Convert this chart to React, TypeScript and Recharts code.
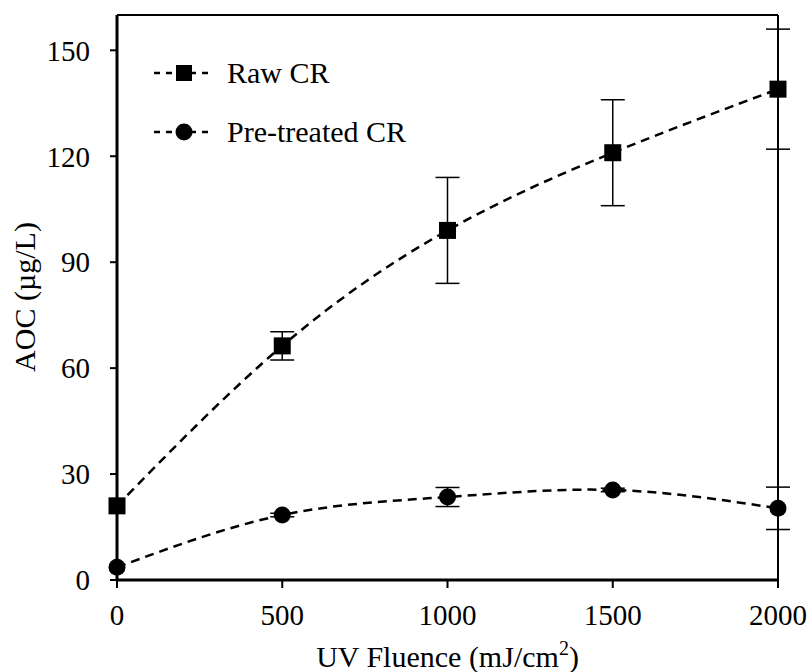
import React from "react";
import {
    ComposedChart,
    Line,
    XAxis,
    YAxis,
    ErrorBar,
    ReferenceLine,
} from "recharts";

const fluence = [0, 500, 1000, 1500, 2000];
const rawCR = [21, 66.3, 99, 121, 139];
const rawErr = [0, 4, 15, 15, 17];
const pretreatedCR = [3.6, 18.4, 23.5, 25.5, 20.3];
const pretreatedErr = [0, 0.5, 2.7, 0.5, 6];
const xTicks = [0, 500, 1000, 1500, 2000];
const yTicks = [0, 30, 60, 90, 120, 150];

const FONT = '"Liberation Serif", "Times New Roman", serif';

const data = fluence.map((x, i) => ({
    x,
    raw: rawCR[i],
    rawErr: rawErr[i],
    pre: pretreatedCR[i],
    preErr: pretreatedErr[i],
}));

const SquareDot = (props: any) => {
    const { cx, cy, index } = props;
    if (cx == null || cy == null) return null;
    return <rect key={`sq-${index}`} x={cx - 8.5} y={cy - 8.5} width={17} height={17} fill="#000" />;
};

// legend drawn by hand, placed inside the plot box (top-left)
const CustomLegend = () => (
    <svg width={300} height={100} style={{ fontFamily: FONT, position: "absolute", left: 150, top: 54 }}>
        <line x1={4} y1={19} x2={64} y2={19} stroke="#000" strokeWidth={2.5} strokeDasharray="6 6" />
        <rect x={26} y={11} width={16} height={16} fill="#000" />
        <text x={77} y={29} fontSize={30} fill="#000">Raw CR</text>
        <line x1={4} y1={78} x2={64} y2={78} stroke="#000" strokeWidth={2.5} strokeDasharray="6 6" />
        <circle cx={34} cy={78} r={8.5} fill="#000" />
        <text x={77} y={88} fontSize={30} fill="#000">Pre-treated CR</text>
    </svg>
);

const XTitle = ({ viewBox }: any) => {
    const cx = viewBox.x + viewBox.width / 2;
    return (
        <text x={cx} y={667} textAnchor="middle" fontSize={30} fontFamily={FONT} fill="#000">
            UV Fluence (mJ/cm
            <tspan fontSize={20} dy={-12}>2</tspan>
            <tspan dy={12}>)</tspan>
        </text>
    );
};

const YTitle = () => (
    <text
        x={0}
        y={0}
        transform="translate(35, 297) rotate(-90)"
        textAnchor="middle"
        fontSize={30}
        fontFamily={FONT}
        fill="#000"
    >
        AOC (µg/L)
    </text>
);

export default function App() {
    return (
        <div style={{ position: "fixed", left: 0, top: 0, width: 811, height: 672, background: "#fff" }}>
            <ComposedChart
                width={811}
                height={672}
                data={data}
                margin={{ top: 15, right: 33, bottom: 0, left: 0 }}
                style={{ overflow: "visible" }}
            >
                <XAxis
                    dataKey="x"
                    type="number"
                    domain={[0, 2000]}
                    ticks={xTicks}
                    height={92}
                    axisLine={{ stroke: "#000", strokeWidth: 3 }}
                    tickLine={{ stroke: "#000", strokeWidth: 2 }}
                    tickSize={8}
                    tickMargin={16}
                    tick={{ fill: "#000", fontSize: 29, fontFamily: FONT }}
                    label={<XTitle />}
                />
                <YAxis
                    type="number"
                    domain={[0, 160]}
                    ticks={yTicks}
                    width={117}
                    axisLine={{ stroke: "#000", strokeWidth: 3 }}
                    tickLine={{ stroke: "#000", strokeWidth: 2 }}
                    tickSize={7}
                    tickMargin={20}
                    tick={{ fill: "#000", fontSize: 29, fontFamily: FONT }}
                    label={<YTitle />}
                />
                <ReferenceLine y={160} stroke="#000" strokeWidth={2} />
                <ReferenceLine x={2000} stroke="#000" strokeWidth={2} />
                <Line
                    dataKey="raw"
                    type="natural"
                    stroke="#000"
                    strokeWidth={2.5}
                    strokeDasharray="9 6"
                    dot={SquareDot}
                    activeDot={false}
                    isAnimationActive={false}
                >
                    <ErrorBar dataKey="rawErr" direction="y" width={12} stroke="#000" strokeWidth={1.5} />
                </Line>
                <Line
                    dataKey="pre"
                    type="natural"
                    stroke="#000"
                    strokeWidth={2.5}
                    strokeDasharray="9 6"
                    dot={{ r: 8.5, fill: "#000", stroke: "none" }}
                    activeDot={false}
                    isAnimationActive={false}
                >
                    <ErrorBar dataKey="preErr" direction="y" width={12} stroke="#000" strokeWidth={1.5} />
                </Line>
            </ComposedChart>
            <CustomLegend />
        </div>
    );
}
